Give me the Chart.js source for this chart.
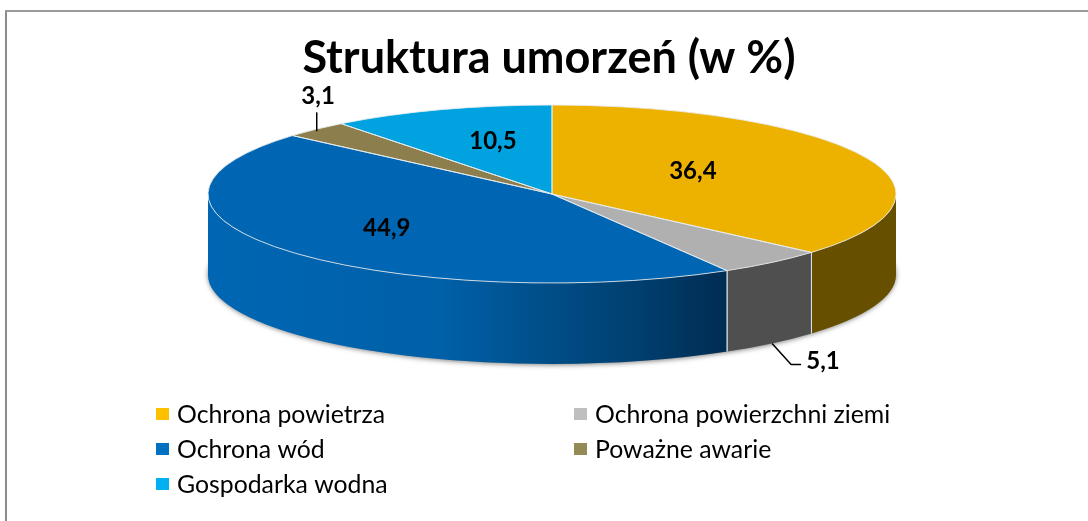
<!DOCTYPE html>
<html><head><meta charset="utf-8">
<script src="https://cdn.jsdelivr.net/npm/chart.js@4/dist/chart.umd.min.js"></script>
<style>
html,body{margin:0;padding:0;background:#fff;overflow:hidden}
#wrap{position:absolute;left:0;top:0;width:1088px;height:521px}
canvas{position:absolute;left:0;top:0}
#frameL{position:absolute;left:5px;top:10px;width:2px;height:511px;background:#8c8c8c}
#frameT{position:absolute;left:5px;top:10px;width:1083px;height:2px;background:#9a9a9a}
</style></head><body>
<div id="wrap"><canvas id="c" width="1088" height="521"></canvas><div id="frameL"></div><div id="frameT"></div></div>
<script>
const categories = ["Ochrona powietrza","Ochrona powierzchni ziemi","Ochrona wód","Poważne awarie","Gospodarka wodna"];
const values = [36.4,5.1,44.9,3.1,10.5];
const valueLabels = ["36,4","5,1","44,9","3,1","10,5"];
const faceColors = ["#edb200","#b0b0b0","#0066b3","#8c7e4d","#00a3e0"];
const legendColors = ["#ffc000","#bfbfbf","#0070c0","#948a54","#00b0f0"];
const titleText = "Struktura umorzeń (w %)";

// 3D projection of the flat pie that Chart.js lays out
const VIEW = {cx:552, cy:194, rx:344, ry:89, depth:81};
// wall shading: x stops per slice
const WALL = [
  [[0,"#665000"],[1,"#665000"]],
  [[0,"#4f4f4f"],[1,"#4f4f4f"]],
  [[0,"#0066b3"],[0.45,"#0060a8"],[0.64,"#004f8a"],[0.83,"#003f6f"],[1,"#002c52"]],
  [[0,"#5c5230"],[1,"#5c5230"]],
  [[0,"#006c96"],[1,"#006c96"]]
];
// label placement as radial fractions of the ellipse along each slice's mid angle
const LABEL_F = [[.45,.65],[1.231,2.43],[.625,.58],[.99,1.53],[.53,.64]];
const FONT = "Lato, 'Open Sans', sans-serif";

const pie3d = {
  id:"pie3d",
  beforeDatasetsDraw(chart){
    const ctx = chart.ctx, arcs = chart.getDatasetMeta(0).data, V = VIEW;
    // soft ground shadow
    ctx.save();
    ctx.shadowColor = "rgba(0,0,0,.5)";
    ctx.shadowBlur = 5;
    ctx.shadowOffsetY = 1;
    ctx.fillStyle = "#9a9a9a";
    ctx.beginPath();
    ctx.ellipse(V.cx,V.cy+V.depth-1,V.rx,V.ry+1,0,0,Math.PI*2);
    ctx.fill();
    ctx.restore();
    // side walls
    arcs.forEach((el,i)=>{
      const a0 = Math.max(el.startAngle,0), a1 = Math.min(el.endAngle,Math.PI);
      if(a1<=a0) return;
      const x0 = V.cx+V.rx*Math.cos(a1), x1 = V.cx+V.rx*Math.cos(a0);
      const g = ctx.createLinearGradient(x0,0,x1,0);
      WALL[i].forEach(s=>g.addColorStop(s[0],s[1]));
      ctx.beginPath();
      ctx.ellipse(V.cx,V.cy,V.rx,V.ry,0,a0,a1);
      ctx.ellipse(V.cx,V.cy+V.depth,V.rx,V.ry,0,a1,a0,true);
      ctx.closePath();
      ctx.fillStyle = g;
      ctx.fill();
    });
    ctx.save();
    ctx.strokeStyle = "rgba(225,232,238,.8)";
    ctx.lineWidth = 1;
    arcs.forEach(el=>{
      [el.startAngle,el.endAngle].forEach(a=>{
        if(a>0 && a<Math.PI){
          const x = V.cx+V.rx*Math.cos(a), y = V.cy+V.ry*Math.sin(a);
          ctx.beginPath();ctx.moveTo(x,y);ctx.lineTo(x,y+V.depth);ctx.stroke();
        }
      });
    });
    ctx.restore();
    // squash the library's flat pie onto the top face
    const e = arcs[0], R = e.outerRadius;
    ctx.save();
    ctx.translate(V.cx,V.cy);
    ctx.scale(V.rx/R,V.ry/R);
    ctx.translate(-e.x,-e.y);
  },
  afterDatasetsDraw(chart){
    const ctx = chart.ctx, arcs = chart.getDatasetMeta(0).data, V = VIEW;
    ctx.restore();
    // thin separators and rim
    ctx.save();
    ctx.strokeStyle = "rgba(232,236,238,.85)";
    ctx.lineWidth = 1;
    arcs.forEach(el=>{
      ctx.beginPath();
      ctx.moveTo(V.cx,V.cy);
      ctx.ellipse(V.cx,V.cy,V.rx,V.ry,0,el.startAngle,el.endAngle);
      ctx.closePath();
      ctx.stroke();
    });
    ctx.restore();
    // leader lines
    const rim = (el,drop)=>{
      const m = (el.startAngle+el.endAngle)/2;
      return [V.cx+V.rx*Math.cos(m), V.cy+V.ry*Math.sin(m)+drop];
    };
    ctx.save();
    ctx.strokeStyle = "#000";
    ctx.lineWidth = 1.5;
    let p = rim(arcs[3],0);
    ctx.beginPath();ctx.moveTo(p[0]+1,p[1]+2);ctx.lineTo(p[0]+1,p[1]-17);ctx.stroke();
    p = rim(arcs[1],V.depth);
    ctx.beginPath();ctx.moveTo(p[0],p[1]);ctx.lineTo(p[0]+19,p[1]+21);ctx.lineTo(p[0]+29,p[1]+21);ctx.stroke();
    // value labels
    ctx.fillStyle = "#000";
    ctx.font = "bold 24px "+FONT;
    ctx.textAlign = "center";
    ctx.textBaseline = "middle";
    arcs.forEach((el,i)=>{
      const m = (el.startAngle+el.endAngle)/2;
      ctx.fillText(valueLabels[i], V.cx+V.rx*Math.cos(m)*LABEL_F[i][0], 1.5+V.cy+V.ry*Math.sin(m)*LABEL_F[i][1]);
    });
    // legend in two columns
    ctx.font = "24.8px "+FONT;
    ctx.textAlign = "left";
    const cols = [156,574], rows = [414,449,484];
    categories.forEach((t,i)=>{
      const x = cols[i%2], y = rows[Math.floor(i/2)];
      ctx.fillStyle = legendColors[i];
      ctx.fillRect(x,y-6,13,12);
      ctx.fillStyle = "#000";
      ctx.fillText(t,x+21,y+1);
    });
    ctx.restore();
  }
};

new Chart(document.getElementById("c"),{
  type:"pie",
  data:{labels:categories,datasets:[{data:values,backgroundColor:faceColors,borderWidth:0,clip:false}]},
  options:{
    responsive:false,animation:false,
    events:[],
    layout:{padding:{left:10,top:27,bottom:60}},
    plugins:{
      legend:{display:false},
      tooltip:{enabled:false},
      title:{display:true,text:titleText,color:"#000",font:{family:FONT,size:45,weight:"bold"},padding:{top:4,bottom:10}}
    }
  },
  plugins:[pie3d]
});
</script>
</body></html>
